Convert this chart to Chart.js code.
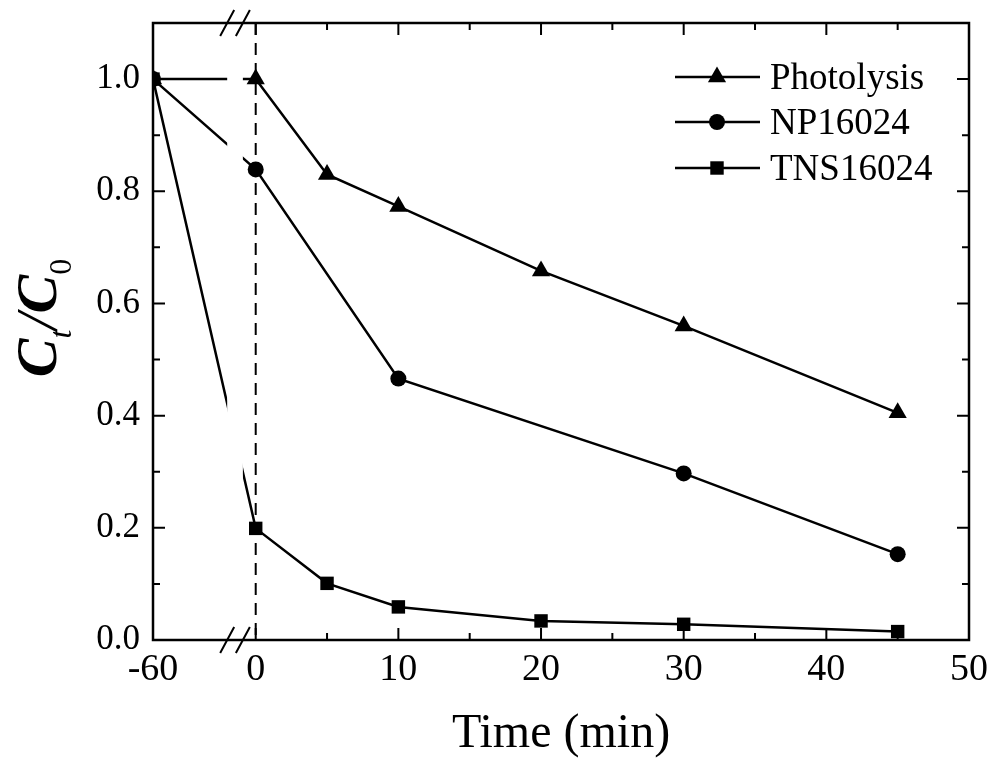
<!DOCTYPE html>
<html>
<head>
<meta charset="utf-8">
<script src="https://cdn.jsdelivr.net/npm/chart.js@4.4.1/dist/chart.umd.min.js"></script>
<style>
  html, body { margin: 0; padding: 0; background: #fff; }
  #wrap { width: 993px; height: 764px; }
</style>
</head>
<body>
<div id="wrap"><canvas id="chart"></canvas></div>
<script>
const timeMain = [-60, 0, 5, 10, 20, 30, 45];
const timeNP = [-60, 0, 10, 30, 45];
const photolysis = [1.0, 1.0, 0.83, 0.773, 0.658, 0.56, 0.405];
const np16024 = [1.0, 0.839, 0.466, 0.297, 0.153];
const tns16024 = [1.0, 0.199, 0.101, 0.059, 0.034, 0.028, 0.015];
const xTickValues = [-60, 0, 10, 20, 30, 40, 50];
const yTickValues = [0, 0.2, 0.4, 0.6, 0.8, 1.0];
const seriesNames = ["Photolysis", "NP16024", "TNS16024"];

// broken time axis: -60 sits on the left edge, the rest is linear from 0
const breakAt = -7.2;
const gapFrom = -2.0, gapTo = -0.9;
const toAxis = t => (t < 0 ? breakAt : t);
const pts = (xs, ys) => xs.map((t, i) => ({ x: toAxis(t), y: ys[i] }));

const serif = "'Liberation Serif', 'Times New Roman', serif";

const framePlugin = {
  id: "frame",
  beforeDatasetsDraw(chart) {
    const { ctx, chartArea: a, scales: { x } } = chart;
    const p = x.getPixelForValue(0);
    ctx.save();
    ctx.strokeStyle = "#000";
    ctx.lineWidth = 2;
    ctx.setLineDash([12, 8]);
    ctx.beginPath();
    ctx.moveTo(p, a.top);
    ctx.lineTo(p, a.bottom);
    ctx.stroke();
    ctx.restore();
  },
  afterDatasetsDraw(chart) {
    const { ctx, chartArea: a, scales: { x, y } } = chart;
    const g0 = x.getPixelForValue(gapFrom), g1 = x.getPixelForValue(gapTo);
    ctx.save();
    // cut the lines where the axis is broken
    ctx.fillStyle = "#fff";
    ctx.fillRect(g0, a.top + 2, g1 - g0, a.bottom - a.top - 4);

    ctx.strokeStyle = "#000";
    ctx.lineWidth = 2.5;
    ctx.strokeRect(a.left, a.top, a.right - a.left, a.bottom - a.top);

    // inward ticks on all four sides
    ctx.lineWidth = 2;
    ctx.beginPath();
    for (let v = 0; v < 50; v += 5) {
      const p = x.getPixelForValue(v), len = v % 10 === 0 ? 12 : 7;
      ctx.moveTo(p, a.bottom); ctx.lineTo(p, a.bottom - len);
      ctx.moveTo(p, a.top); ctx.lineTo(p, a.top + len);
    }
    for (let i = 1; i <= 10; i++) {
      const p = y.getPixelForValue(i / 10), len = i % 2 === 0 ? 12 : 7;
      ctx.moveTo(a.left, p); ctx.lineTo(a.left + len, p);
      ctx.moveTo(a.right, p); ctx.lineTo(a.right - len, p);
    }
    ctx.stroke();

    // break marks //
    ctx.beginPath();
    [g0, g1].forEach(c => {
      [a.top, a.bottom].forEach(ay => {
        ctx.moveTo(c - 7, ay + 13);
        ctx.lineTo(c + 7, ay - 13);
      });
    });
    ctx.stroke();
    ctx.restore();
  },
  afterDraw(chart) {
    const { ctx } = chart;
    ctx.save();
    ctx.fillStyle = "#000";

    // y title  C_t / C_0
    const big = "italic bold 58px " + serif;
    const parts = [
      ["C", big, 0],
      ["t", "italic 32px " + serif, 15],
      ["/", "italic 58px " + serif, 0],
      ["C", big, 0],
      ["0", "32px " + serif, 15],
    ];
    let total = 0;
    parts.forEach(p => { ctx.font = p[1]; total += ctx.measureText(p[0]).width; });
    ctx.translate(0, 318);
    ctx.rotate(-Math.PI / 2);
    ctx.textBaseline = "alphabetic";
    let u = -total / 2;
    parts.forEach(p => {
      ctx.font = p[1];
      ctx.fillText(p[0], u, 56 + p[2]);
      u += ctx.measureText(p[0]).width;
    });
    ctx.setTransform(1, 0, 0, 1, 0, 0);

    // legend
    const rows = [77, 122, 168];
    ctx.font = "37px " + serif;
    ctx.textBaseline = "alphabetic";
    chart.data.datasets.forEach((ds, i) => {
      const yy = rows[i];
      ctx.strokeStyle = "#000";
      ctx.lineWidth = 2.5;
      ctx.beginPath();
      ctx.moveTo(675, yy);
      ctx.lineTo(760, yy);
      ctx.stroke();
      ctx.fillStyle = "#000";
      Chart.helpers.drawPoint(ctx, { pointStyle: ds.pointStyle, radius: ds.pointRadius, rotation: 0, borderWidth: 0 }, 717, yy);
      ctx.fillText(ds.label, 770, yy + 12);
    });
    ctx.restore();
  }
};

const ct = document.getElementById("chart");

const config = {
  type: "line",
  data: {
    datasets: [
      {
        label: seriesNames[0],
        data: pts(timeMain, photolysis),
        borderColor: "#000",
        backgroundColor: "#000",
        borderWidth: 2.5,
        pointStyle: "triangle",
        pointRadius: 10.5,
        pointBorderWidth: 0,
        clip: 0,
      },
      {
        label: seriesNames[1],
        data: pts(timeNP, np16024),
        borderColor: "#000",
        backgroundColor: "#000",
        borderWidth: 2.5,
        pointStyle: "circle",
        pointRadius: 8,
        pointBorderWidth: 0,
        clip: 0,
      },
      {
        label: seriesNames[2],
        data: pts(timeMain, tns16024),
        borderColor: "#000",
        backgroundColor: "#000",
        borderWidth: 2.5,
        pointStyle: "rect",
        pointRadius: 9.5,
        pointBorderWidth: 0,
        clip: 0,
      },
    ],
  },
  options: {
    responsive: true,
    maintainAspectRatio: false,
    animation: false,
    layout: { padding: { left: 0, right: 24, top: 23, bottom: 0 } },
    plugins: { legend: { display: false }, tooltip: { enabled: false } },
    scales: {
      x: {
        type: "linear",
        min: breakAt,
        max: 50,
        grid: { display: false, drawTicks: false },
        border: { display: false },
        afterBuildTicks: s => { s.ticks = xTickValues.map(v => ({ value: toAxis(v) })); },
        afterFit: s => { s.height = 124; s.paddingLeft = 0; s.paddingRight = 0; },
        ticks: {
          color: "#000",
          padding: 7,
          maxRotation: 0,
          autoSkip: false,
          font: { family: serif, size: 38 },
          callback: v => (v === breakAt ? "-60" : String(v)),
        },
        title: {
          display: true,
          text: "Time (min)",
          color: "#000",
          font: { family: serif, size: 48, lineHeight: 1 },
          padding: { top: 0, bottom: 6 },
        },
      },
      y: {
        min: 0,
        max: 1.1,
        grid: { display: false, drawTicks: false },
        border: { display: false },
        afterBuildTicks: s => { s.ticks = yTickValues.map(v => ({ value: v })); },
        afterFit: s => { s.width = 153; s.paddingTop = 0; s.paddingBottom = 0; },
        ticks: {
          color: "#000",
          padding: 13,
          font: { family: serif, size: 35 },
          callback: v => v.toFixed(1),
        },
      },
    },
  },
  plugins: [framePlugin],
};

new Chart(ct, config);
</script>
</body>
</html>
